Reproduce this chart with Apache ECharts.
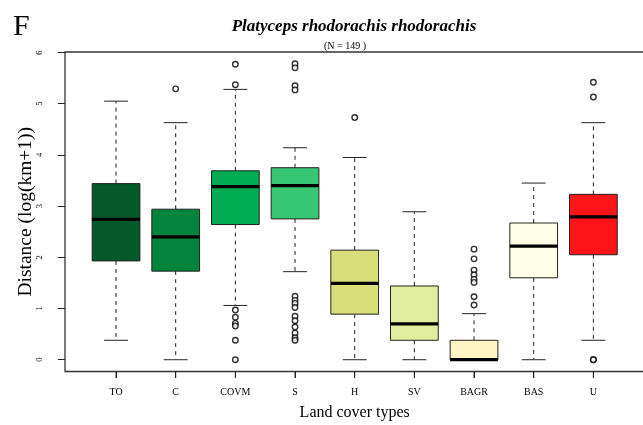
<!DOCTYPE html>
<html>
<head>
<meta charset="utf-8">
<script src="https://cdn.jsdelivr.net/npm/echarts@6/dist/echarts.min.js"></script>
<style>
  html, body { margin: 0; padding: 0; background: #fff; }
  #chart { width: 643px; height: 425px; }
</style>
</head>
<body>
<div id="chart"></div>
<script>
// land cover classes
var categories = ['TO', 'C', 'COVM', 'S', 'H', 'SV', 'BAGR', 'BAS', 'U'];
// five-number summaries
var whiskerLow  = [0.38, 0.00, 1.06, 1.72, 0.00, 0.00, 0.00, 0.00, 0.38];
var quart1      = [1.93, 1.73, 2.64, 2.75, 0.89, 0.38, 0.00, 1.60, 2.05];
var medians     = [2.74, 2.40, 3.38, 3.40, 1.49, 0.70, 0.00, 2.22, 2.79];
var quart3      = [3.44, 2.94, 3.69, 3.75, 2.14, 1.44, 0.38, 2.67, 3.23];
var whiskerHigh = [5.05, 4.63, 5.28, 4.14, 3.95, 2.89, 0.90, 3.45, 4.63];
// outliers per class
var outliers = [
    [],
    [5.29],
    [5.77, 5.37, 0.97, 0.83, 0.71, 0.66, 0.38, 0.00],
    [5.78, 5.70, 5.35, 5.27, 1.24, 1.16, 1.10, 1.02, 0.85, 0.76, 0.64, 0.52, 0.43, 0.38],
    [4.73],
    [],
    [2.16, 1.97, 1.75, 1.66, 1.57, 1.51, 1.23, 1.07],
    [],
    [5.42, 5.13, 0.00, 0.00]
];
var boxColors = ['#04592b', '#03843d', '#00ab54', '#39c673', '#d7de7a', '#e2ee9f', '#fff5c4', '#fffee6', '#fe1419'];
var yTicks = [0, 1, 2, 3, 4, 5, 6];
var yMin = -0.23, yMax = 6.01;

var serif = '"Liberation Serif", "DejaVu Serif", serif';

// frame: 319.5px tall for the y range; box grid runs 6.5px lower so the x ticks sit under the frame
var frameH = 319.5, tickLen = 6.5;
var pxPerUnit = frameH / (yMax - yMin);
var yMinBox = yMax - (frameH + tickLen) / pxPerUnit;

var boxData = categories.map(function (c, i) {
    return [i, whiskerLow[i], quart1[i], medians[i], quart3[i], whiskerHigh[i]];
});
var outlierData = [];
outliers.forEach(function (list, i) {
    list.forEach(function (v) { outlierData.push([i, v]); });
});

function renderBox(params, api) {
    var i = api.value(0);
    var band = api.size([1, 0])[0];
    var half = band * 0.4;
    var capHalf = band * 0.2;
    var pLow = api.coord([i, api.value(1)]);
    var pQ1 = api.coord([i, api.value(2)]);
    var pMed = api.coord([i, api.value(3)]);
    var pQ3 = api.coord([i, api.value(4)]);
    var pHigh = api.coord([i, api.value(5)]);
    var pFrame = api.coord([i, yMin]);
    var pBase = api.coord([i, yMinBox]);
    var x = pMed[0];
    var dash = { stroke: '#222', lineWidth: 1, lineDash: [4, 4] };
    var solid = { stroke: '#222', lineWidth: 1 };
    return {
        type: 'group',
        children: [
            // x-axis tick under the frame
            { type: 'line', shape: { x1: x, y1: pFrame[1], x2: x, y2: pBase[1] }, style: solid },
            { type: 'line', shape: { x1: x, y1: pQ3[1], x2: x, y2: pHigh[1] }, style: dash },
            { type: 'line', shape: { x1: x, y1: pQ1[1], x2: x, y2: pLow[1] }, style: dash },
            { type: 'line', shape: { x1: x - capHalf, y1: pHigh[1], x2: x + capHalf, y2: pHigh[1] }, style: solid },
            { type: 'line', shape: { x1: x - capHalf, y1: pLow[1], x2: x + capHalf, y2: pLow[1] }, style: solid },
            { type: 'rect', shape: { x: x - half, y: pQ3[1], width: half * 2, height: pQ1[1] - pQ3[1] },
              style: { fill: boxColors[params.dataIndex], stroke: '#222', lineWidth: 1 } },
            { type: 'line', shape: { x1: x - half, y1: pMed[1], x2: x + half, y2: pMed[1] },
              style: { stroke: '#000', lineWidth: 3.2 } }
        ]
    };
}

var chart = echarts.init(document.getElementById('chart'));
var option = {
    animation: false,
    backgroundColor: '#fff',
    title: [
        { text: 'F', left: 8, top: 7, textStyle: { fontFamily: serif, fontSize: 30, fontWeight: 'normal', color: '#000' } },
        { text: 'Platyceps rhodorachis rhodorachis', left: 349, textAlign: 'center', top: 13,
          textStyle: { fontFamily: serif, fontSize: 17, fontWeight: 'bold', fontStyle: 'italic', color: '#000' } },
        { text: '(N = 149 )', left: 340, textAlign: 'center', top: 36,
          textStyle: { fontFamily: serif, fontSize: 10, fontWeight: 'normal', color: '#000' } }
    ],
    grid: [
        { left: 65, top: 52, width: 580, height: frameH, show: true, borderColor: '#333', borderWidth: 1.3,
          outerBoundsMode: 'none', containLabel: false },
        { left: 86.2, top: 52, width: 537, height: frameH + tickLen, outerBoundsMode: 'none', containLabel: false }
    ],
    xAxis: [
        { type: 'value', gridIndex: 0, min: 0, max: 1, show: false },
        {
            type: 'category', gridIndex: 1, data: categories, boundaryGap: true, position: 'bottom',
            axisLine: { show: false, onZero: false },
            axisTick: { show: true, inside: true, alignWithLabel: true, length: tickLen,
                        lineStyle: { color: '#222', width: 1 } },
            axisLabel: { interval: 0, fontFamily: serif, fontSize: 10, color: '#000', margin: 9 },
            name: 'Land cover types', nameLocation: 'middle', nameGap: 26.5, nameMoveOverlap: false,
            nameTextStyle: { fontFamily: serif, fontSize: 16, color: '#000' }
        }
    ],
    yAxis: [
        {
            type: 'value', gridIndex: 0, min: yMin, max: yMax,
            splitLine: { show: false },
            axisLine: { show: false },
            axisTick: { show: true, length: 7, customValues: yTicks, lineStyle: { color: '#222', width: 1 } },
            axisLabel: { customValues: yTicks, rotate: 90, fontFamily: serif, fontSize: 8.5, color: '#000', margin: 21 },
            name: 'Distance (log(km+1))', nameLocation: 'middle', nameGap: 29, nameRotate: 90, nameMoveOverlap: false,
            nameTextStyle: { fontFamily: serif, fontSize: 19.5, color: '#000' }
        },
        { type: 'value', gridIndex: 1, min: yMinBox, max: yMax, show: false, splitLine: { show: false } }
    ],
    series: [
        {
            type: 'custom', xAxisIndex: 1, yAxisIndex: 1, clip: false,
            data: boxData, encode: { x: 0, y: [1, 2, 3, 4, 5] },
            renderItem: renderBox, z: 2
        },
        {
            type: 'scatter', xAxisIndex: 1, yAxisIndex: 1,
            data: outlierData, symbol: 'circle', symbolSize: 5.5,
            itemStyle: { color: '#fff', borderColor: '#000', borderWidth: 1.4 }, z: 3
        }
    ]
};
chart.setOption(option);
</script>
</body>
</html>
